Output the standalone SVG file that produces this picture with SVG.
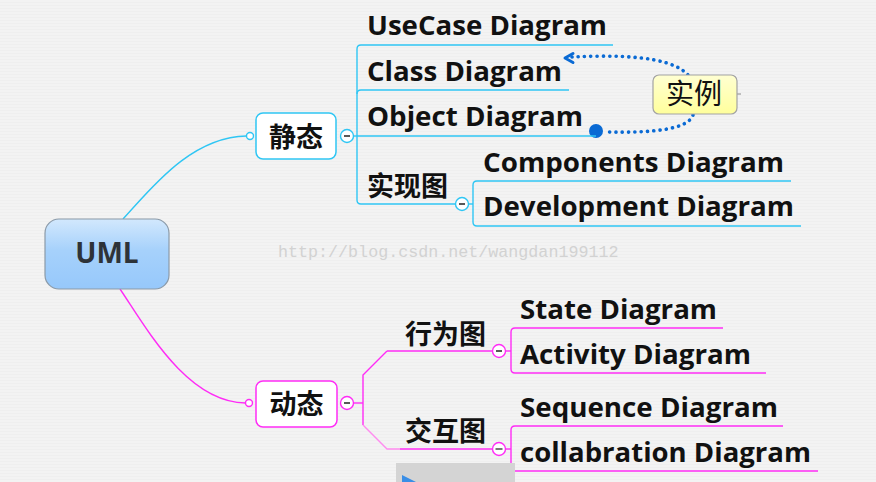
<svg xmlns="http://www.w3.org/2000/svg" width="876" height="482" viewBox="0 0 876 482">
<defs>
<linearGradient id="gUml" x1="0" y1="0" x2="0" y2="1">
<stop offset="0" stop-color="#d2e8fd"/>
<stop offset="0.45" stop-color="#a6d1fb"/>
<stop offset="1" stop-color="#96c8fb"/>
</linearGradient>
<linearGradient id="gShili" x1="0" y1="0" x2="0" y2="1">
<stop offset="0" stop-color="#ffffd2"/>
<stop offset="1" stop-color="#ffff9c"/>
</linearGradient>
<pattern id="bgp" width="4" height="3" patternUnits="userSpaceOnUse">
<rect width="4" height="3" fill="#f3f3f3"/>
<rect y="2" width="4" height="1" fill="#efefef"/>
</pattern>
</defs>
<style>
.cy{fill:none;stroke:#2fc6f4;stroke-width:1.4}
.mg{fill:none;stroke:#ff2cf6;stroke-width:1.4}
.mgl{fill:none;stroke:#ff8cf0;stroke-width:1.4}
.box{fill:#ffffff;stroke-width:1.5}
.en{font-family:"Open Sans","Noto Sans","Liberation Sans",sans-serif;font-weight:700;font-size:26px;fill:#111}
.cjk{font-family:"Noto Sans CJK SC",sans-serif;font-weight:700;font-size:27px;fill:#111}
.tog{fill:#ffffff;stroke-width:1.4}
.minus{stroke:#111;stroke-width:1.4}
.dot{fill:none;stroke:#0a6ad4;stroke-width:3.6;stroke-linecap:round;stroke-dasharray:0.1 6.2}
</style>
<rect width="876" height="482" fill="url(#bgp)"/>
<text x="278" y="257" font-family="Liberation Mono,monospace" font-size="16.7" fill="#d2d2d2">http://blog.csdn.net/wangdan199112</text>

<g id="connectors">
<path class="cy" d="M123,219 C150,190 190,137 246.5,136"/>
<path class="cy" d="M353.5,136 H357"/>
<path class="cy" d="M361,45 Q357,45 357,49 V200 Q357,204 361,204"/>
<path class="cy" d="M357,94 Q357,90 361,90"/>
<path class="cy" d="M468.5,204 H473"/>
<path class="cy" d="M477,181 Q473,181 473,185 V222 Q473,226 477,226"/>
<path class="mg" d="M120,289 C147,329 187,402 245.5,403"/>
<path class="mg" d="M353.5,403 H363"/>
<path class="mg" d="M387,351 L363,375 V425"/>
<path class="mgl" d="M363,425 L387,449 H400"/>
<path class="mg" d="M505.5,351 H511"/>
<path class="mg" d="M515,328 Q511,328 511,332 V369 Q511,373 515,373"/>
<path class="mg" d="M505.5,449 H511"/>
<path class="mg" d="M515,426 Q511,426 511,430 V467 Q511,471 515,471"/>
<path class="dot" d="M572,57 C615,55 670,55 688,75"/>
<path d="M573,53.5 L565,58 L573,62.5" fill="none" stroke="#0a6ad4" stroke-width="3" stroke-linecap="round" stroke-linejoin="round"/>
<path class="dot" d="M693,115 C688,130 650,133 606,132"/>
<circle cx="596" cy="131" r="7" fill="#0a6ad4"/>
</g>

<g id="uml">
<rect x="45" y="219" width="124" height="70" rx="14" fill="url(#gUml)" stroke="#8b9aa8" stroke-width="1.2"/>
<text x="107" y="263" text-anchor="middle" font-family="Open Sans,Liberation Sans,sans-serif" font-weight="700" font-size="28" fill="#2e3338">UML</text>
</g>

<g id="jingtai">
<circle cx="250" cy="136" r="3.5" class="tog" stroke="#2fc6f4"/>
<rect x="256" y="113" width="80" height="46" rx="7" class="box" stroke="#2fc6f4"/>
<text x="296" y="147" text-anchor="middle" class="cjk">静态</text>
<circle cx="347" cy="136" r="6.5" class="tog" stroke="#2fc6f4"/>
<line x1="344" y1="136" x2="350" y2="136" class="minus"/>
</g>

<g id="usecase">
<path class="cy" d="M361,45 H613"/>
<text x="367" y="35" class="en" textLength="240" lengthAdjust="spacingAndGlyphs">UseCase Diagram</text>
</g>
<g id="class">
<path class="cy" d="M361,90 H569"/>
<text x="367" y="81" class="en" textLength="195" lengthAdjust="spacingAndGlyphs">Class Diagram</text>
</g>
<g id="object">
<path class="cy" d="M357,136 H596"/>
<text x="367" y="126" class="en" textLength="216" lengthAdjust="spacingAndGlyphs">Object Diagram</text>
</g>
<g id="shixiantu">
<path class="cy" d="M361,204 H455.5"/>
<text x="367" y="196" class="cjk">实现图</text>
<circle cx="462" cy="204" r="6.5" class="tog" stroke="#2fc6f4"/>
<line x1="459" y1="204" x2="465" y2="204" class="minus"/>
</g>
<g id="components">
<path class="cy" d="M477,181 H791"/>
<text x="483" y="172" class="en" textLength="301" lengthAdjust="spacingAndGlyphs">Components Diagram</text>
</g>
<g id="development">
<path class="cy" d="M477,226 H801"/>
<text x="483" y="216" class="en" textLength="311" lengthAdjust="spacingAndGlyphs">Development Diagram</text>
</g>

<g id="shili">
<line x1="737" y1="94" x2="741" y2="94" stroke="#8a8a8a" stroke-width="1"/>
<rect x="653" y="75" width="84" height="39" rx="6" fill="url(#gShili)" stroke="#a3a3a3" stroke-width="1.2"/>
<text x="694" y="104" text-anchor="middle" font-family="Noto Sans CJK SC,sans-serif" font-weight="400" font-size="28" fill="#111">实例</text>
</g>

<g id="dongtai">
<circle cx="249" cy="403" r="3.5" class="tog" stroke="#ff2cf6"/>
<rect x="256" y="381" width="81" height="46" rx="7" class="box" stroke="#ff2cf6"/>
<text x="296.5" y="414" text-anchor="middle" class="cjk">动态</text>
<circle cx="347" cy="403" r="6.5" class="tog" stroke="#ff2cf6"/>
<line x1="344" y1="403" x2="350" y2="403" class="minus"/>
</g>

<g id="xingweitu">
<path class="mg" d="M387,351 H492.5"/>
<text x="405" y="344" class="cjk">行为图</text>
<circle cx="499" cy="351" r="6.5" class="tog" stroke="#ff2cf6"/>
<line x1="496" y1="351" x2="502" y2="351" class="minus"/>
</g>
<g id="state">
<path class="mg" d="M515,328 H723"/>
<text x="520" y="319" class="en" textLength="197" lengthAdjust="spacingAndGlyphs">State Diagram</text>
</g>
<g id="activity">
<path class="mg" d="M515,373 H766"/>
<text x="520" y="364" class="en" textLength="231" lengthAdjust="spacingAndGlyphs">Activity Diagram</text>
</g>

<g id="jiaohutu">
<path class="mg" d="M400,449 H492.5"/>
<text x="405" y="441" class="cjk">交互图</text>
<circle cx="499" cy="449" r="6.5" class="tog" stroke="#ff2cf6"/>
<line x1="495.5" y1="449" x2="502.5" y2="449" stroke="#777" stroke-width="2"/>
</g>
<g id="sequence">
<path class="mg" d="M515,426 H783"/>
<text x="520" y="417" class="en" textLength="258" lengthAdjust="spacingAndGlyphs">Sequence Diagram</text>
</g>
<g id="collab">
<path class="mg" d="M515,471 H818"/>
<text x="520" y="462" class="en" textLength="291" lengthAdjust="spacingAndGlyphs">collabration Diagram</text>
</g>

<rect x="396" y="463" width="119" height="19" fill="#d4d4d4"/>
<polygon points="402,475 418,483 402,491" fill="#3a8ee6"/>
</svg>
